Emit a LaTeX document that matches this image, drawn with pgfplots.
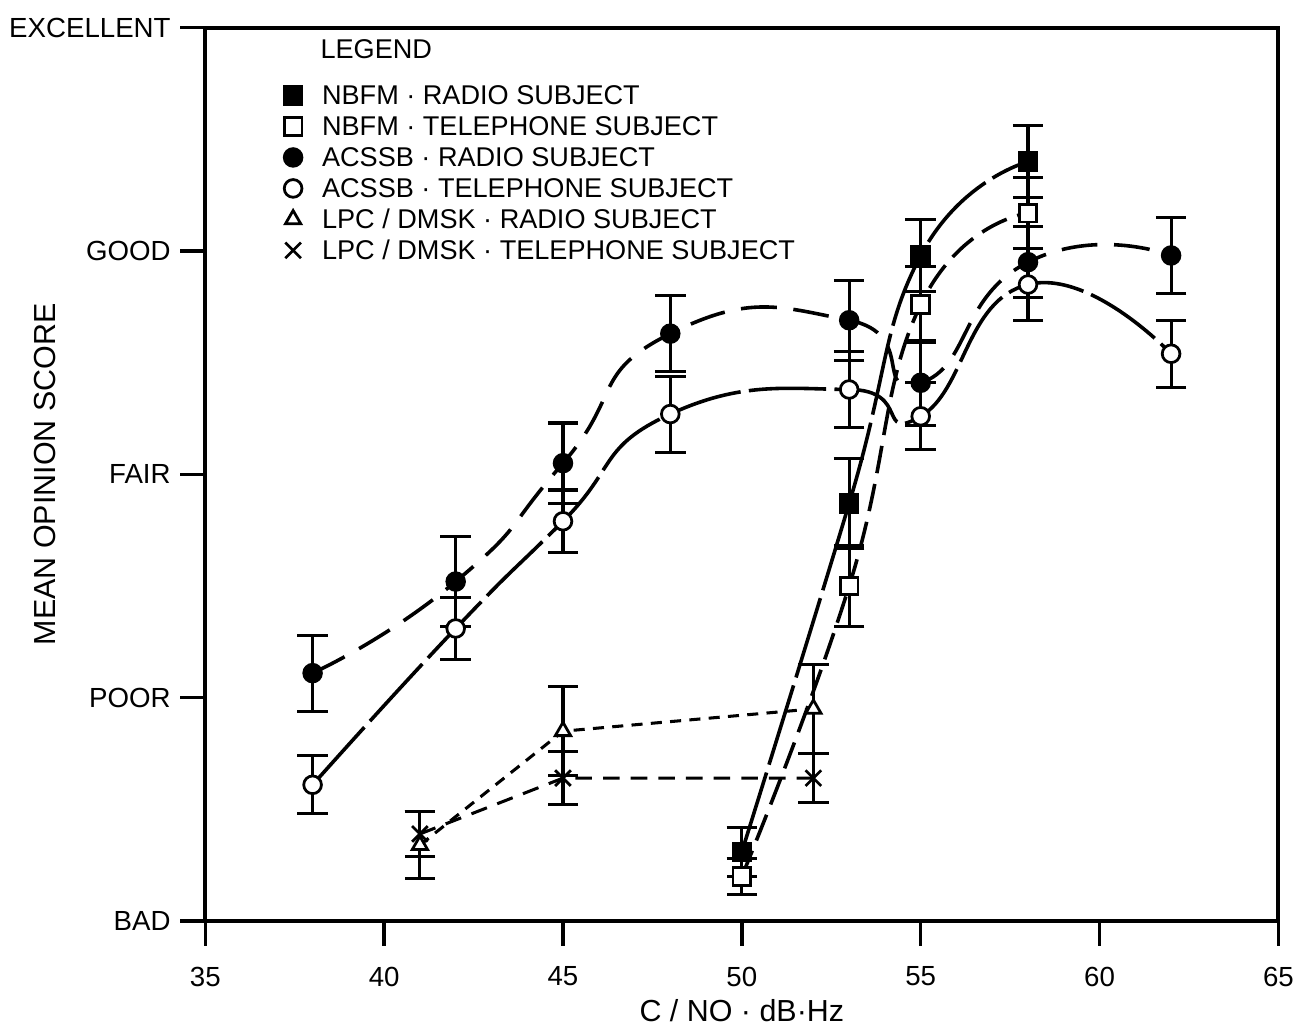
\documentclass[border=0pt]{standalone}
\usepackage{fontspec}
\setmainfont{Liberation Sans}
\usepackage{pgfplots}
\pgfplotsset{compat=1.18}

% columns: C/N0, mean opinion score, error half-width
\pgfplotstableread{
x y e
50 1.31 0.11
53 2.87 0.20
55 3.98 0.16
58 4.40 0.16
}\nbfmradio
\pgfplotstableread{
x y e
50 1.20 0.08
53 2.50 0.18
55 3.76 0.17
58 4.17 0.16
}\nbfmtel
\pgfplotstableread{
x y e
38 2.11 0.17
42 2.52 0.20
45 3.05 0.18
48 3.63 0.17
53 3.69 0.18
55 3.41 0.19
58 3.95 0.16
62 3.98 0.17
}\acssbradio
\pgfplotstableread{
x y e
38 1.61 0.13
42 2.31 0.14
45 2.79 0.14
48 3.27 0.17
53 3.38 0.17
55 3.26 0.15
58 3.85 0.16
62 3.54 0.15
}\acssbtel
\pgfplotstableread{
x y e
41 1.34 0.15
45 1.85 0.20
52 1.95 0.20
}\lpcradio
\pgfplotstableread{
x y e
41 1.39 0.10
45 1.64 0.12
52 1.64 0.11
}\lpctel

\pgfplotsset{
  curve/.style={black, line width=1.3pt, smooth, tension=0.8, forget plot},
  straight/.style={black, line width=1.1pt, sharp plot, forget plot},
  pts/.style={black, only marks, mark size=3.2pt, line width=1pt,
    error bars/y dir=both, error bars/y explicit,
    error bars/error bar style={line width=1.1pt, solid},
    error bars/error mark options={rotate=90, mark size=5.5pt, line width=1.1pt}},
}

\begin{document}
\begin{tikzpicture}
\begin{axis}[
  scale only axis, width=388pt, height=323pt,
  xmin=35, xmax=65, ymin=1, ymax=5,
  xtick={35,40,...,65}, ytick={1,2,3,4,5},
  yticklabels={BAD,POOR,FAIR,GOOD,EXCELLENT},
  tick align=outside, xtick pos=bottom, ytick pos=left,
  major tick length=9pt,
  every tick/.style={black, line width=1.2pt},
  axis line style={line width=1.4pt},
  ticklabel style={font=\fontsize{10}{12}\selectfont},
  xticklabel style={yshift=-4pt},
  /pgf/number format/assume math mode=true,
  xlabel={C / NO · dB·Hz},
  ylabel={MEAN OPINION SCORE},
  label style={font=\fontsize{11}{13}\selectfont},
  xlabel style={at={(axis description cs:0.5,-0.1)}, anchor=center},
  ylabel style={at={(axis description cs:-0.149,0.5)}, anchor=center},
  clip=false,
  legend cell align=left,
  legend image code/.code={\path (0cm,0cm) (0.45cm,0cm); \draw[#1] plot coordinates {(0.17cm,0cm)};},
  legend style={draw=none, fill=none, at={(axis cs:36.95,4.775)}, anchor=north west,
    font=\fontsize{9.8}{11}\selectfont, row sep=0.9pt, inner sep=1pt,
    nodes={text height=6.9pt, text depth=0.4pt, inner ysep=1.5pt}},
]
\path (axis description cs:-0.187,-0.114) rectangle (axis description cs:1.019,1.031);

\addplot[curve, dash pattern=on 30pt off 3pt] table[x=x,y=y]{\nbfmradio};
\addplot[curve, dash pattern=on 10pt off 4pt] table[x=x,y=y]{\nbfmtel};
\addplot[curve, tension=1, dash pattern=on 13pt off 6pt] table[x=x,y=y]{\acssbradio};
\addplot[curve, tension=0.9, dash pattern=on 28pt off 3pt] table[x=x,y=y]{\acssbtel};
\addplot[straight, dash pattern=on 4pt off 3pt] table[x=x,y=y]{\lpcradio};
\addplot[straight, dash pattern=on 6pt off 4pt] table[x=x,y=y]{\lpctel};

\addplot[pts, mark=square*] table[x=x,y=y,y error=e]{\nbfmradio};
\addlegendentry{NBFM · RADIO SUBJECT}
\addplot[pts, mark=square*, mark options={fill=white}] table[x=x,y=y,y error=e]{\nbfmtel};
\addlegendentry{NBFM · TELEPHONE SUBJECT}
\addplot[pts, mark=*] table[x=x,y=y,y error=e]{\acssbradio};
\addlegendentry{ACSSB · RADIO SUBJECT}
\addplot[pts, mark=*, mark options={fill=white}] table[x=x,y=y,y error=e]{\acssbtel};
\addlegendentry{ACSSB · TELEPHONE SUBJECT}
\addplot[pts, mark=triangle*, mark options={fill=white}] table[x=x,y=y,y error=e]{\lpcradio};
\addlegendentry{LPC / DMSK · RADIO SUBJECT}
\addplot[pts, mark=x, mark size=4pt] table[x=x,y=y,y error=e]{\lpctel};
\addlegendentry{LPC / DMSK · TELEPHONE SUBJECT}

\node[anchor=west, font=\fontsize{9.8}{11}\selectfont] at (axis cs:37.95,4.905) {LEGEND};
\end{axis}
\end{tikzpicture}
\end{document}
